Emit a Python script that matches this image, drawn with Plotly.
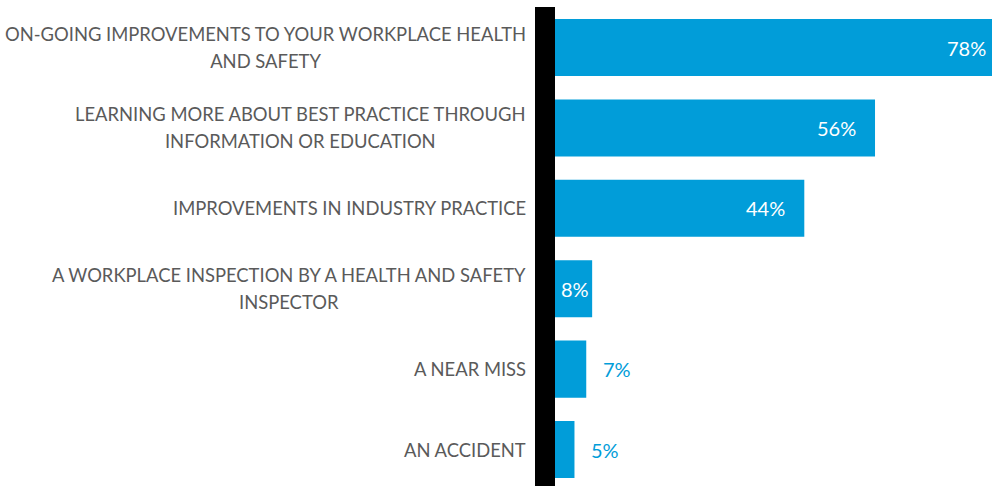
import plotly.graph_objects as go

# Survey responses: what prompts improvements to workplace health and safety
categories = [
    ["ON-GOING IMPROVEMENTS TO YOUR WORKPLACE HEALTH", "AND SAFETY"],
    ["LEARNING MORE ABOUT BEST PRACTICE THROUGH", "INFORMATION OR EDUCATION"],
    ["IMPROVEMENTS IN INDUSTRY PRACTICE"],
    ["A WORKPLACE INSPECTION BY A HEALTH AND SAFETY", "INSPECTOR"],
    ["A NEAR MISS"],
    ["AN ACCIDENT"],
]
values = [78, 56, 44, 8, 7, 5]
value_labels = ["78%", "56%", "44%", "8%", "7%", "5%"]

BAR_BLUE = "#019dd9"
LABEL_GREY = "#5a5a5a"
FONT = "Lato"
X_MAX = 75.85  # visible extent of the value axis; the longest bar runs past it

positions = list(range(len(categories)))

fig = go.Figure(
    go.Bar(
        x=values,
        y=positions,
        orientation="h",
        width=0.71,
        marker=dict(color=BAR_BLUE, line=dict(width=0)),
        hoverinfo="skip",
    )
)

annotations = []
# Category labels: right-aligned block, centred lines, looser line spacing
# (line spacing follows the base font size, glyphs use the span size)
for pos, lines in zip(positions, categories):
    text = "<br>".join(f"<span style='font-size:18.4px'>{ln}</span>" for ln in lines)
    annotations.append(dict(
        x=0, xref="paper", y=pos, yref="y",
        text=text, showarrow=False,
        xanchor="right", yanchor="middle", align="center",
        xshift=-17,
        font=dict(family=FONT, size=20.8, color=LABEL_GREY),
    ))

# Value labels: inside the long bars, outside the short ones
for pos, val, lab in zip(positions, values, value_labels):
    if val >= 40:
        style = dict(xanchor="right", xshift=-17, color="white")
    elif val == 8:
        style = dict(xanchor="right", xshift=-1, color="white")
    else:
        style = dict(xanchor="left", xshift=15, color=BAR_BLUE)
    annotations.append(dict(
        x=val / X_MAX, xref="paper", y=pos, yref="y",
        text=lab, showarrow=False,
        xanchor=style["xanchor"], yanchor="middle", xshift=style["xshift"],
        font=dict(family=FONT, size=20, color=style["color"]),
    ))

fig.update_layout(
    width=992, height=486,
    margin=dict(l=544.5, r=0, t=7, b=0),
    paper_bgcolor="white", plot_bgcolor="white",
    showlegend=False,
    annotations=annotations,
    shapes=[dict(
        type="line", xref="paper", yref="paper",
        x0=0, x1=0, y0=0, y1=1,
        line=dict(color="black", width=20),
        layer="above",
    )],
    xaxis=dict(range=[0, X_MAX], visible=False, fixedrange=True),
    yaxis=dict(
        range=[5.454, -0.504],
        showticklabels=False, ticks="",
        showgrid=False, zeroline=False, showline=False,
        fixedrange=True,
    ),
)

fig.write_html("out.html", config={"displayModeBar": False})
